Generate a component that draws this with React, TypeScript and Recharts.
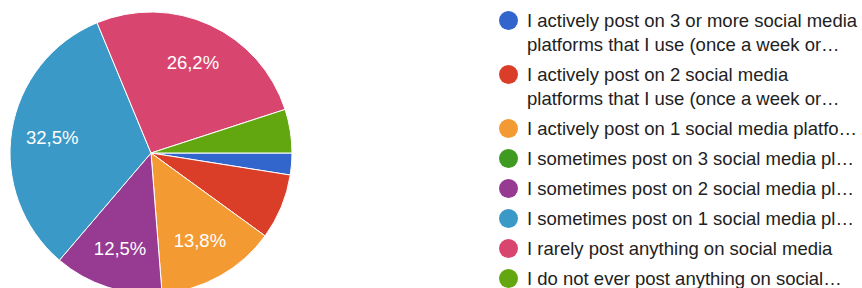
import React from "react";
import { PieChart, Pie, Cell, Legend } from "recharts";

const categories = [
  "I actively post on 3 or more social media platforms that I use (once a week or more)",
  "I actively post on 2 social media platforms that I use (once a week or more)",
  "I actively post on 1 social media platform that I use (once a week or more)",
  "I sometimes post on 3 social media platforms",
  "I sometimes post on 2 social media platforms",
  "I sometimes post on 1 social media platform",
  "I rarely post anything on social media",
  "I do not ever post anything on social media",
];

const legendLines: string[][] = [
  ["I actively post on 3 or more social media", "platforms that I use (once a week or…"],
  ["I actively post on 2 social media", "platforms that I use (once a week or…"],
  ["I actively post on 1 social media platfo…"],
  ["I sometimes post on 3 social media pl…"],
  ["I sometimes post on 2 social media pl…"],
  ["I sometimes post on 1 social media pl…"],
  ["I rarely post anything on social media"],
  ["I do not ever post anything on social…"],
];

const counts = [2, 6, 11, 0, 10, 26, 21, 4];

const colors = [
  "#3366cc",
  "#da3e28",
  "#f49a33",
  "#3f9a22",
  "#963a92",
  "#3b99c8",
  "#d8466f",
  "#62a70f",
];

const data = categories.map((name, i) => ({ name, value: counts[i] }));

const FONT = '"Liberation Sans", Arial, Helvetica, sans-serif';
const RADIAN = Math.PI / 180;

// round half to even at one decimal
const formatPct = (p: number) => {
  const v = p * 1000;
  const f = Math.floor(v);
  const diff = v - f;
  let r: number;
  if (Math.abs(diff - 0.5) < 1e-6) r = f % 2 === 0 ? f : f + 1;
  else r = Math.round(v);
  return (r / 10).toFixed(1).replace(".", ",") + "%";
};

const renderLabel = (props: any) => {
  const { cx, cy, midAngle, percent } = props;
  if (percent < 0.1) return null;
  const r = 100;
  const x = cx + r * Math.cos(-midAngle * RADIAN);
  const y = cy + r * Math.sin(-midAngle * RADIAN);
  return (
    <text
      x={x}
      y={y}
      fill="#ffffff"
      fontSize={18.5}
      fontFamily={FONT}
      textAnchor="middle"
      dominantBaseline="central"
    >
      {formatPct(percent)}
    </text>
  );
};

const renderLegend = (props: any) => {
  const payload = [...(props.payload || [])].sort(
    (a: any, b: any) => categories.indexOf(a.value) - categories.indexOf(b.value)
  );
  return (
    <div style={{ fontFamily: FONT, fontSize: 18.5, color: "#222222" }}>
      {payload.map((entry: any, i: number) => {
        const idx = categories.indexOf(entry.value);
        const k = idx >= 0 ? idx : i;
        const lines = legendLines[k];
        return (
          <div
            key={k}
            style={{
              position: "relative",
              paddingLeft: 29,
              marginBottom: 6,
              lineHeight: "24px",
              whiteSpace: "nowrap",
            }}
          >
            <span
              style={{
                position: "absolute",
                left: 0.8,
                top: 2.5,
                width: 19,
                height: 19,
                borderRadius: "50%",
                background: entry.color || colors[k],
              }}
            />
            {lines.map((l, j) => (
              <div key={j}>{l}</div>
            ))}
          </div>
        );
      })}
    </div>
  );
};

export default function App() {
  return (
    <div
      style={{
        position: "absolute",
        left: 0,
        top: 0,
        width: 862,
        height: 288,
        overflow: "hidden",
        background: "#ffffff",
      }}
    >
      <PieChart width={862} height={288} margin={{ top: 0, right: 0, bottom: 0, left: 0 }}>
        <Pie
          data={data}
          dataKey="value"
          nameKey="name"
          cx={151}
          cy={153}
          outerRadius={141}
          startAngle={0}
          endAngle={-360}
          stroke="#ffffff"
          strokeWidth={1}
          label={renderLabel}
          labelLine={false}
          isAnimationActive={false}
        >
          {data.map((d, i) => (
            <Cell key={i} fill={colors[i]} />
          ))}
        </Pie>
        <Legend
          content={renderLegend}
          layout="vertical"
          verticalAlign="top"
          align="right"
          wrapperStyle={{ position: "absolute", left: 498, top: 8.7, width: 364 }}
        />
      </PieChart>
    </div>
  );
}
